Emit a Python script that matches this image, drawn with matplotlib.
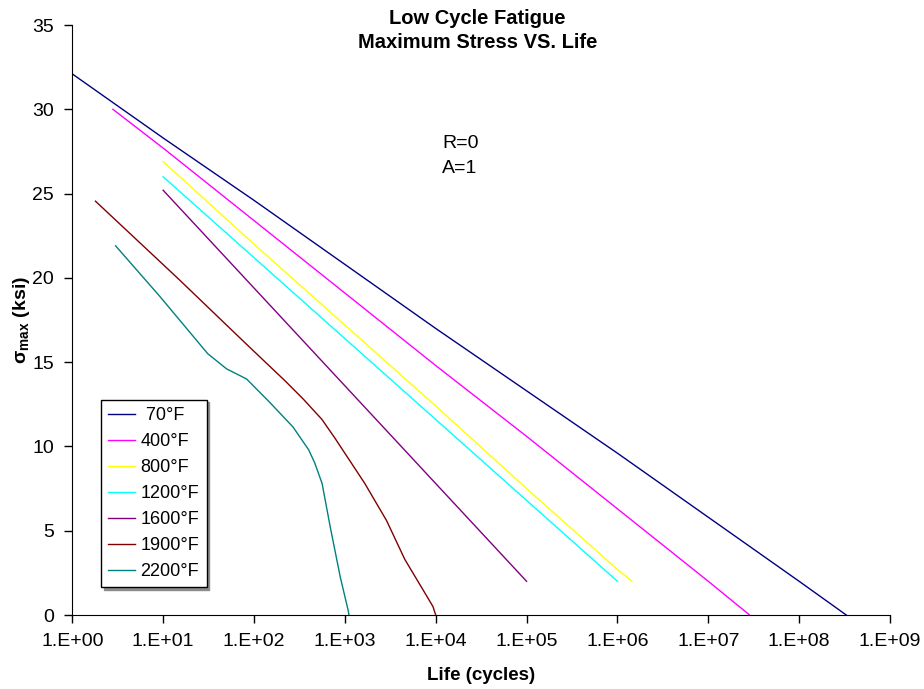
import numpy as np
import matplotlib
matplotlib.use('Agg')
import matplotlib.pyplot as plt
from matplotlib.ticker import FixedLocator, FuncFormatter, NullLocator

plt.rcParams['font.family'] = ['Liberation Sans', 'DejaVu Sans']
plt.rcParams['mathtext.fontset'] = 'custom'
plt.rcParams['mathtext.bf'] = 'Liberation Sans:bold'
plt.rcParams['mathtext.rm'] = 'Liberation Sans'

# life (cycles) and max stress (ksi)
life_70 = [1, 10, 1e2, 1e3, 1e4, 1e5, 1e6, 1e7, 1e8, 3.3e8]
stress_70 = [32.1, 28.3, 24.6, 20.8, 17.0, 13.3, 9.6, 5.8, 2.0, 0.0]

life_400 = [2.8, 10, 1e2, 1e3, 1e4, 1e5, 1e6, 1e7, 2.85e7]
stress_400 = [30.0, 27.7, 23.4, 19.1, 14.8, 10.6, 6.3, 2.0, 0.0]

life_800 = [10, 1e2, 1e3, 1e4, 1e5, 1e6, 1.45e6]
stress_800 = [26.9, 22.0, 17.2, 12.4, 7.5, 2.7, 2.0]

life_1200 = [10, 1e2, 1e3, 1e4, 1e5, 1e6]
stress_1200 = [26.0, 21.2, 16.4, 11.6, 6.8, 2.0]

life_1600 = [10, 1e2, 1e3, 1e4, 1e5]
stress_1600 = [25.2, 19.4, 13.6, 7.8, 2.0]

life_1900 = [1.8, 15, 89, 219, 350, 560, 776, 1660, 2880, 4570, 7240, 9330, 10000]
stress_1900 = [24.55, 19.9, 15.9, 13.9, 12.8, 11.6, 10.5, 7.8, 5.6, 3.3, 1.5, 0.5, 0.0]

life_2200 = [3.0, 9.2, 31, 50, 83, 150, 269, 400, 468, 562, 692, 891, 1096, 1109]
stress_2200 = [21.9, 18.9, 15.5, 14.6, 14.0, 12.6, 11.15, 9.8, 9.0, 7.8, 5.2, 2.25, 0.2, 0.0]

labels = [' 70°F', '400°F', '800°F', '1200°F', '1600°F', '1900°F', '2200°F']
colors = ['#000080', '#ff00ff', '#ffff00', '#00ffff', '#800080', '#800000', '#008080']
series = [(life_70, stress_70), (life_400, stress_400), (life_800, stress_800),
          (life_1200, stress_1200), (life_1600, stress_1600),
          (life_1900, stress_1900), (life_2200, stress_2200)]

x_ticks = [10.0 ** k for k in range(10)]
y_ticks = [0, 5, 10, 15, 20, 25, 30, 35]

fig = plt.figure(figsize=(9.24, 6.89), dpi=100)
ax = fig.add_axes([0.0782, 0.1074, 0.885, 0.8563])

for (x, y), lab, c in zip(series, labels, colors):
    ax.plot(x, y, color=c, lw=1.0, label=lab)

ax.set_xscale('log')
ax.set_xlim(1, 1e9)
ax.set_ylim(0, 35)
ax.xaxis.set_major_locator(FixedLocator(x_ticks))
ax.xaxis.set_minor_locator(NullLocator())
ax.xaxis.set_major_formatter(FuncFormatter(lambda v, p: '1.E+%02d' % round(np.log10(v))))
ax.set_yticks(y_ticks)

ax.spines['top'].set_visible(False)
ax.spines['right'].set_visible(False)
ax.tick_params(direction='out', length=6, width=1, labelsize=14, pad=7)

ax.set_xlabel('Life (cycles)', fontsize=13.5, fontweight='bold', labelpad=12)
ax.set_ylabel(r'$\mathbf{\sigma}_{\mathbf{max}}$ (ksi)', fontsize=14, fontweight='bold', labelpad=0)

fig.text(0.517, 0.987, 'Low Cycle Fatigue\nMaximum Stress VS. Life', ha='center', va='top',
         fontsize=14.5, fontweight='bold', linespacing=1.35)

ax.text(1.17e4, 28.0, 'R=0', fontsize=14, va='center')
ax.text(1.17e4, 26.5, 'A=1', fontsize=14, va='center')

leg = ax.legend(loc='lower left', bbox_to_anchor=(0.035, 0.047), fontsize=13,
                handlelength=1.5, handletextpad=0.3, labelspacing=0.5, fancybox=False,
                framealpha=1, edgecolor='black', borderaxespad=0,
                shadow={'color': '0.55', 'alpha': 1})
leg.get_frame().set_linewidth(1.0)

plt.savefig('out.png', dpi=100)
